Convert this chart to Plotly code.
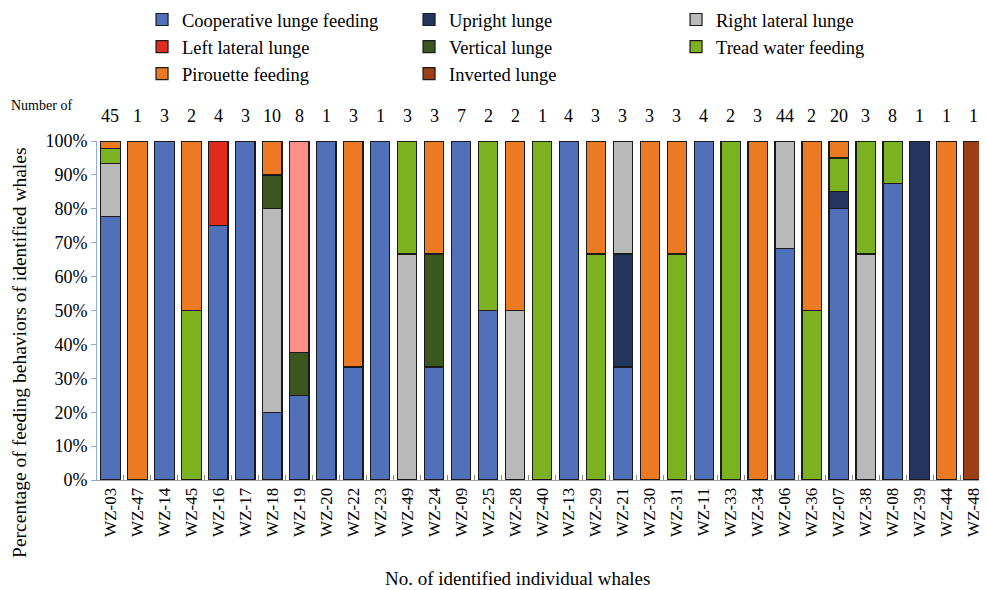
import plotly.graph_objects as go

whales = ["WZ-03", "WZ-47", "WZ-14", "WZ-45", "WZ-16", "WZ-17", "WZ-18", "WZ-19", "WZ-20", "WZ-22",
          "WZ-23", "WZ-49", "WZ-24", "WZ-09", "WZ-25", "WZ-28", "WZ-40", "WZ-13", "WZ-29", "WZ-21",
          "WZ-30", "WZ-31", "WZ-11", "WZ-33", "WZ-34", "WZ-06", "WZ-36", "WZ-07", "WZ-38", "WZ-08",
          "WZ-39", "WZ-44", "WZ-48"]
counts = [45, 1, 3, 2, 4, 3, 10, 8, 1, 3, 1, 3, 3, 7, 2, 2, 1, 4, 3, 3, 3, 3, 4, 2, 3, 44, 2, 20, 3, 8, 1, 1, 1]

cooperative = [77.78, 0, 100, 0, 75, 100, 20, 25, 100, 33.33, 100, 0, 33.33, 100, 50, 0, 0, 100, 0, 33.33,
               0, 0, 100, 0, 0, 68.18, 0, 80, 0, 87.5, 0, 0, 0]
upright = [0, 0, 0, 0, 0, 0, 0, 0, 0, 0, 0, 0, 0, 0, 0, 0, 0, 0, 0, 33.33,
           0, 0, 0, 0, 0, 0, 0, 5, 0, 0, 100, 0, 0]
right_lateral = [15.56, 0, 0, 0, 0, 0, 60, 0, 0, 0, 0, 66.67, 0, 0, 0, 50, 0, 0, 0, 33.34,
                 0, 0, 0, 0, 0, 31.82, 0, 0, 66.67, 0, 0, 0, 0]
left_lateral = [0, 0, 0, 0, 25, 0, 0, 0, 0, 0, 0, 0, 0, 0, 0, 0, 0, 0, 0, 0,
                0, 0, 0, 0, 0, 0, 0, 0, 0, 0, 0, 0, 0]
vertical = [0, 0, 0, 0, 0, 0, 10, 12.5, 0, 0, 0, 0, 33.33, 0, 0, 0, 0, 0, 0, 0,
            0, 0, 0, 0, 0, 0, 0, 0, 0, 0, 0, 0, 0]
tread_water = [4.44, 0, 0, 50, 0, 0, 0, 0, 0, 0, 0, 33.33, 0, 0, 50, 0, 100, 0, 66.67, 0,
               0, 66.67, 0, 100, 0, 0, 50, 10, 33.33, 12.5, 0, 0, 0]
other_pink = [0, 0, 0, 0, 0, 0, 0, 62.5, 0, 0, 0, 0, 0, 0, 0, 0, 0, 0, 0, 0,
              0, 0, 0, 0, 0, 0, 0, 0, 0, 0, 0, 0, 0]
pirouette = [2.22, 100, 0, 50, 0, 0, 10, 0, 0, 66.67, 0, 0, 33.34, 0, 0, 50, 0, 0, 33.33, 0,
             100, 33.33, 0, 0, 100, 0, 50, 5, 0, 0, 0, 100, 0]
inverted = [0, 0, 0, 0, 0, 0, 0, 0, 0, 0, 0, 0, 0, 0, 0, 0, 0, 0, 0, 0,
            0, 0, 0, 0, 0, 0, 0, 0, 0, 0, 0, 0, 100]

series = [
    ("Cooperative lunge feeding", cooperative, "#5071BA", True),
    ("Upright lunge", upright, "#23355E", True),
    ("Right lateral lunge", right_lateral, "#B9B9B9", True),
    ("Left lateral lunge", left_lateral, "#DE2B1D", True),
    ("Vertical lunge", vertical, "#3C5620", True),
    ("Tread water feeding", tread_water, "#7CB21F", True),
    ("Other", other_pink, "#FF8F86", False),
    ("Pirouette feeding", pirouette, "#EC7A22", True),
    ("Inverted lunge", inverted, "#9A3F16", True),
]

FONT = "Liberation Serif"

fig = go.Figure()
for name, vals, color, show in series:
    fig.add_trace(go.Bar(
        x=whales, y=[v / 100 for v in vals], name=name, showlegend=show,
        marker=dict(color=color, line=dict(color="#1a1a1a", width=1.2)),
    ))

annotations = []
for w, c in zip(whales, counts):
    annotations.append(dict(x=w, xref="x", y=1.074, yref="paper", text=str(c), showarrow=False,
                            font=dict(family=FONT, size=18, color="black"), yanchor="middle"))
annotations.append(dict(x=-0.062, xref="paper", y=1.105, yref="paper", text="Number of", showarrow=False,
                        font=dict(family=FONT, size=14, color="black"), xanchor="center", yanchor="middle"))
annotations.append(dict(x=-0.0865, xref="paper", y=0.375, yref="paper",
                        text="Percentage of feeding behaviors of identified whales", showarrow=False,
                        textangle=-90, font=dict(family=FONT, size=19.5, color="black"),
                        xanchor="center", yanchor="middle"))
annotations.append(dict(x=0.472, xref="paper", y=-0.29, yref="paper",
                        text="No. of identified individual whales", showarrow=False,
                        font=dict(family=FONT, size=19, color="black"),
                        xanchor="center", yanchor="middle"))

fig.update_layout(
    width=979, height=582,
    margin=dict(l=89, r=0, t=133, b=110, autoexpand=False),
    paper_bgcolor="white", plot_bgcolor="white",
    barmode="stack", bargap=0.28,
    font=dict(family=FONT, color="black"),
    legend=dict(orientation="h", x=0.0506, xanchor="left", y=1.413, yanchor="top",
                traceorder="normal", entrywidth=222, entrywidthmode="pixels",
                font=dict(family=FONT, size=18.5, color="black"), bgcolor="rgba(0,0,0,0)"),
    annotations=annotations,
    xaxis=dict(type="category", range=[-0.5, 32.5], showline=True, linecolor="#A0A0A0", linewidth=1,
               ticks="inside", tickson="boundaries", ticklen=5, tickcolor="#888888",
               tickangle=-90, tickfont=dict(family=FONT, size=17, color="black"),
               showgrid=False, zeroline=False, automargin=False),
    yaxis=dict(range=[0, 1], dtick=0.1, tickformat=".0%", showline=True, linecolor="#8FAADC",
               linewidth=1, ticks="outside", ticklen=5, tickcolor="#8FAADC",
               tickfont=dict(family=FONT, size=18, color="black"),
               showgrid=False, zeroline=False, automargin=False),
)

fig.write_html("out.html")
